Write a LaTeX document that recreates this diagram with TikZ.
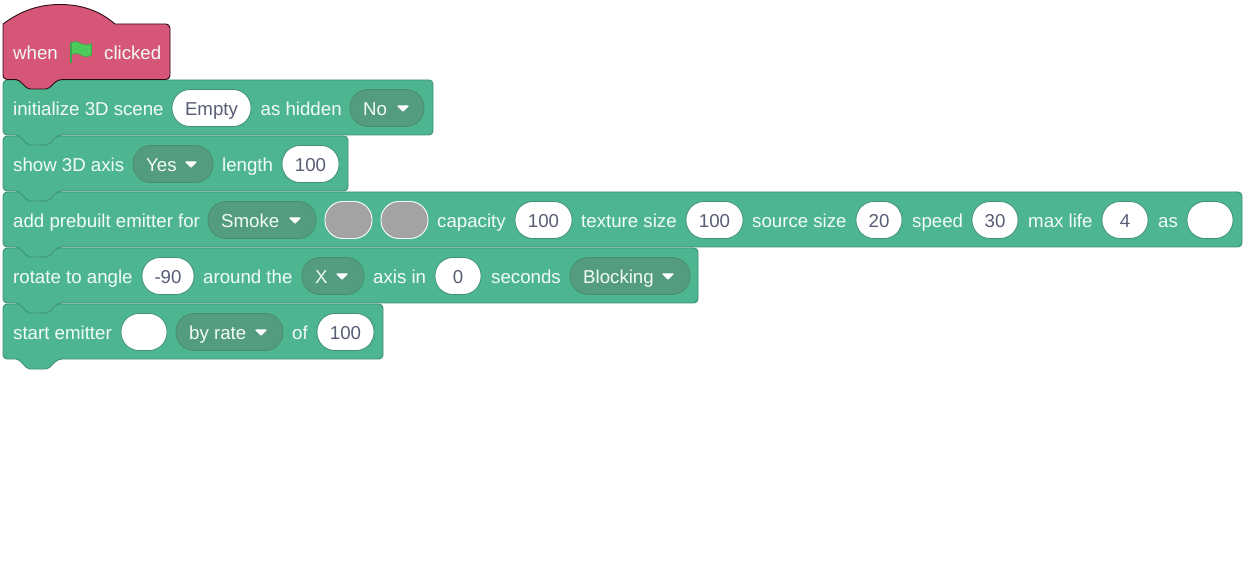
\documentclass[tikz,border=0pt]{standalone}
\usepackage{fontspec}
\setmainfont{Liberation Sans}
\definecolor{gfill}{HTML}{4DB690}
\definecolor{gline}{HTML}{3F9074}
\definecolor{ddfill}{HTML}{549C80}
\definecolor{ddline}{HTML}{488C72}
\definecolor{rfill}{HTML}{D65677}
\definecolor{rline}{HTML}{2A0A16}
\definecolor{inkt}{HTML}{575E75}
\definecolor{labt}{HTML}{F2FBF7}
\definecolor{flagc}{HTML}{4CCB5C}
\definecolor{flagd}{HTML}{3FA34C}
\definecolor{greyp}{HTML}{A3A3A3}
\tikzset{
  x=1pt,y=-1pt,
  blockshape/.style={fill=gfill,draw=gline,line width=.9pt,line join=round},
  hatshape/.style={fill=rfill,draw=rline,line width=.9pt,line join=round},
  lab/.style={anchor=base west,inner sep=0pt,text=labt,font=\fontsize{18.67}{20}\selectfont},
  pillbase/.style={inner sep=0pt,minimum height=37pt,rounded corners=18pt,font=\fontsize{18.67}{20}\selectfont},
  inp/.style={pillbase,fill=white,draw=gline,line width=.8pt,text=inkt},
  greyinp/.style={pillbase,fill=greyp,draw=white,line width=.9pt},
  ddbox/.style={pillbase,fill=ddfill,draw=ddline,line width=.8pt},
  ddarrow/.style={fill=white,draw=white,line width=1.2pt,line join=round},
}
% #1 top y, #2 right x
\newcommand{\blockpath}[2]{%
  \path[blockshape,rounded corners=4pt] (3,{#1+28}) -- (3,#1) -- (#2,#1) -- (#2,{#1+55})
    -- (58,{#1+55}) [rounded corners=2pt] -- (48,{#1+65}) -- (28,{#1+65}) -- (18,{#1+55}) [rounded corners=4pt] -- (3,{#1+55}) -- cycle;}
% #1 name, #2 x1, #3 x2, #4 yc, #5 text
\newcommand{\inbox}[5]{\node[inp,minimum width={#3-#2}] (#1) at ({(#2+#3)/2},#4) {};
  \node[lab,anchor=base,text=inkt] (#1t) at ({(#2+#3)/2},{#4+8}) {#5};}
\newcommand{\greybox}[4]{\node[greyinp,minimum width={#3-#2}] (#1) at ({(#2+#3)/2},#4) {};}
% #1 name, #2 x1, #3 x2, #4 yc, #5 text x, #6 arrow x, #7 text
\newcommand{\ddown}[7]{\node[ddbox,minimum width={#3-#2}] (#1) at ({(#2+#3)/2},#4) {};
  \node[lab] (#1t) at (#5,{#4+8}) {#7};
  \path[ddarrow] ({#6-5},{#4-2}) -- ({#6+5},{#4-2}) -- (#6,{#4+3}) -- cycle;}
\newcommand{\lb}[4]{\node[lab] (#1) at (#2,{#3+8}) {#4};}
\begin{document}
\begin{tikzpicture}
\useasboundingbox (0,0) rectangle (1245,585);
% blocks, lowest first so each tab lies over the block below
\blockpath{304}{383}
\blockpath{248}{698}
\blockpath{192}{1242}
\blockpath{136}{348}
\blockpath{80}{433}
% hat
\path[hatshape] (3,24) .. controls (22,10) and (40,4.5) .. (60,4.5) .. controls (82,4.5) and (100,11) .. (115,24)
  [rounded corners=4pt] -- (170,24) -- (170,79.5) -- (58,79.5) [rounded corners=2pt] -- (48,89) -- (28,89) -- (18,79.5) [rounded corners=4pt] -- (3,79.5) [sharp corners] -- (3,24) -- cycle;
\lb{whenl}{13}{52}{when}
\path[fill=flagc,draw=flagd,line width=.6pt] (71.5,42.5) .. controls (76,40.5) and (79,42) .. (82,44) .. controls (85,45.5) and (88,45) .. (91.5,43.5)
  -- (91.5,55) .. controls (87,57.5) and (84,57) .. (81,55) .. controls (78,53) and (75,53) .. (71.5,54.5) -- cycle;
\draw[flagd,line width=1.6pt] (71,42) -- (71,63);
\lb{clickedl}{104}{52}{clicked}
% row 1
\lb{a1}{13}{108}{initialize 3D scene}
\inbox{a2}{172}{251}{108}{Empty}
\lb{a3}{260.5}{108}{as hidden}
\ddown{a4}{350}{424}{108}{363}{403}{No}
% row 2
\lb{b1}{13}{164}{show 3D axis}
\ddown{b2}{133}{213}{164}{146}{191}{Yes}
\lb{b3}{222}{164}{length}
\inbox{b4}{282}{339}{164}{100}
% row 3
\lb{c1}{13}{220}{add prebuilt emitter for}
\ddown{c2}{208}{316}{220}{221}{295}{Smoke}
\greybox{c3}{325}{372}{220}
\greybox{c4}{381}{428}{220}
\lb{c5}{437}{220}{capacity}
\inbox{c6}{515}{572}{220}{100}
\lb{c7}{581}{220}{texture size}
\inbox{c8}{686}{743}{220}{100}
\lb{c9}{752}{220}{source size}
\inbox{c10}{856}{902}{220}{20}
\lb{c11}{912}{220}{speed}
\inbox{c12}{972}{1018}{220}{30}
\lb{c13}{1028}{220}{max life}
\inbox{c14}{1102}{1148}{220}{4}
\lb{c15}{1158}{220}{as}
\inbox{c16}{1187}{1233}{220}{}
% row 4
\lb{d1}{13}{276}{rotate to angle}
\inbox{d2}{142}{194}{276}{-90}
\lb{d3}{203}{276}{around the}
\ddown{d4}{302}{364}{276}{315}{342}{X}
\lb{d5}{373}{276}{axis in}
\inbox{d6}{435}{481}{276}{0}
\lb{d7}{491}{276}{seconds}
\ddown{d8}{570}{690}{276}{583}{668}{Blocking}
% row 5
\lb{e1}{13}{332}{start emitter}
\inbox{e2}{121}{167}{332}{}
\ddown{e3}{176}{283}{332}{189}{261}{by rate}
\lb{e4}{292}{332}{of}
\inbox{e5}{317}{374}{332}{100}
\end{tikzpicture}
\end{document}
